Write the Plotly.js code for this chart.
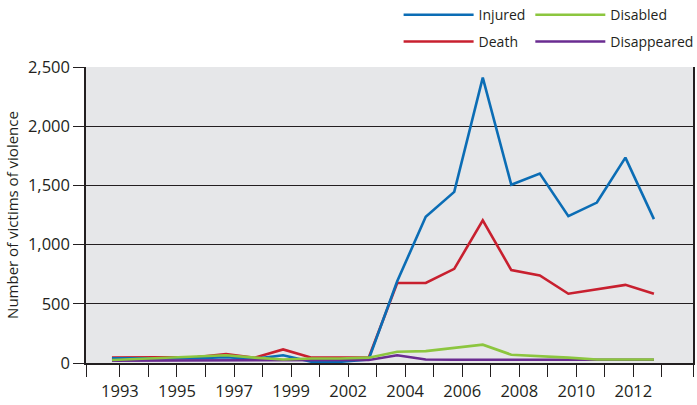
<!DOCTYPE html>
<html>
<head>
<meta charset="utf-8">
<script src="https://cdn.plot.ly/plotly-3.0.1.min.js"></script>
<style>html,body{margin:0;padding:0;background:#fff;}#chart{width:697px;height:405px;}</style>
</head>
<body>
<div id="chart"></div>
<script>
// Years plotted (one year between 1999 and 2002 is absent from the series)
var years = ["1993","1994","1995","1996","1997","1998","1999","2001","2002","2003",
             "2004","2005","2006","2007","2008","2009","2010","2011","2012","2013"];
// Tick labels shown under the axis (every other tick)
var tickLabels = ["1993","","1995","","1997","","1999","","2002","",
                  "2004","","2006","","2008","","2010","","2012",""];

var injured     = [40, 40, 40, 40, 50, 35, 65, 10, 10, 30, 690, 1235, 1445, 2410, 1505, 1600, 1240, 1355, 1735, 1215];
var death       = [45, 45, 45, 50, 75, 45, 115, 45, 45, 45, 676, 676, 795, 1205, 785, 740, 585, 620, 660, 585];
var disabled    = [25, 35, 45, 55, 65, 45, 30, 38, 38, 45, 95, 100, 130, 155, 70, 60, 45, 30, 30, 30];
var disappeared = [20, 20, 20, 20, 20, 20, 20, 20, 20, 25, 65, 30, 28, 28, 28, 28, 28, 28, 28, 28];

var idx = years.map(function(_, i){ return i; });
var xr = [-0.91, 20.37];
var tickShift = 0.28;   // in the source, tick marks sit slightly right of the data points

function tr(name, y, color, leg, rank){
  return {type:'scatter', mode:'lines', name:name, x:idx, y:y,
    text: years, hovertemplate:'%{text}: %{y}<extra>'+name+'</extra>',
    line:{color:color, width:2.6}, legend:leg, legendrank:rank};
}
var data = [
  tr('Death', death, '#c8202f', 'legend2', 2),
  tr('Injured', injured, '#0b6db5', 'legend', 1),
  tr('Disappeared', disappeared, '#6a2c91', 'legend4', 4),
  tr('Disabled', disabled, '#8cc63f', 'legend3', 3)
];

var tv = [xr[0]].concat(idx.map(function(i){ return i + tickShift; }), [xr[1]]);
var tt = [""].concat(tickLabels, [""]);

var font = {family:'"Open Sans", sans-serif', size:16.5, color:'#231f20'};
function leg(x, y){
  return {x:x, y:y, xanchor:'left', yanchor:'middle', xref:'paper', yref:'paper',
    bgcolor:'rgba(0,0,0,0)', borderwidth:0, itemwidth:70,
    font:{family:'"Open Sans", sans-serif', size:14, color:'#231f20'}};
}
var layout = {
  width:697, height:405,
  margin:{l:86, r:4, t:67, b:42, autoexpand:false},
  paper_bgcolor:'#ffffff', plot_bgcolor:'#e6e7e9',
  font:font,
  showlegend:true,
  legend: leg(0.515, 1.175),
  legend2: leg(0.515, 1.085),
  legend3: leg(0.732, 1.175),
  legend4: leg(0.732, 1.085),
  xaxis:{range:xr, tickmode:'array', tickvals:tv, ticktext:tt,
    showgrid:false, zeroline:false, showline:true, linecolor:'#231f20', linewidth:1.5,
    ticks:'outside', ticklen:12, tickcolor:'#231f20', tickwidth:1,
    tickfont:font, fixedrange:true, automargin:false},
  yaxis:{range:[0,2500], dtick:500, tickformat:',', showgrid:true, gridcolor:'#231f20', gridwidth:1,
    zeroline:false, showline:true, mirror:true, linecolor:'#231f20', linewidth:1.5,
    ticks:'outside', ticklen:11, tickcolor:'#231f20', tickwidth:1,
    tickfont:font, fixedrange:true, automargin:false,
    title:{text:'Number of victims of violence', font:{family:'"Open Sans", sans-serif', size:15, color:'#231f20'}, standoff:6}}
};
Plotly.newPlot('chart', data, layout, {displayModeBar:false, responsive:false});
</script>
</body>
</html>
